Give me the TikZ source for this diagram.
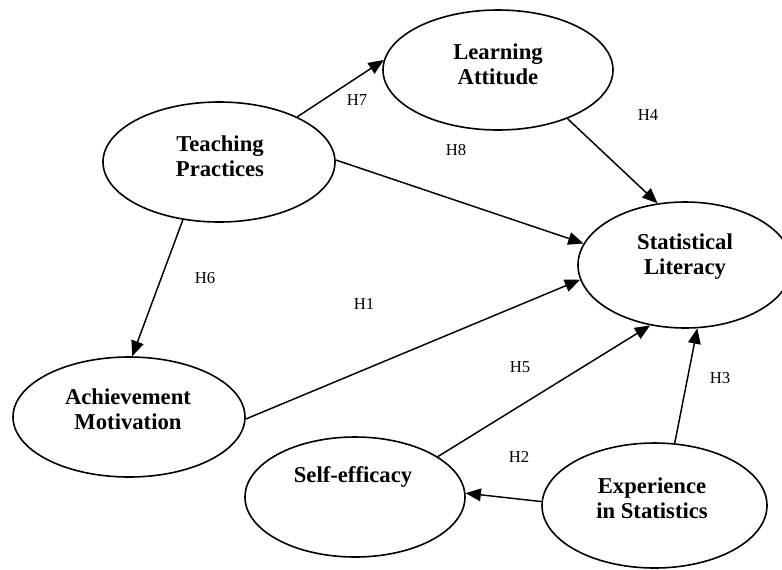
\documentclass[tikz,border=0pt]{standalone}
\usepackage{fontspec}
\setmainfont{Liberation Serif}
\usetikzlibrary{shapes.geometric,arrows.meta}
\begin{document}
\begin{tikzpicture}[x=0.75pt,y=-0.75pt,
  construct/.style={draw,ellipse,line width=1.2pt,inner sep=0pt},
  ctext/.style={align=center,font=\bfseries\fontsize{17}{18.75}\selectfont},
  path/.style={line width=1.1pt,-{Triangle[length=11.5pt,width=9.5pt]}},
  hyp/.style={font=\fontsize{12.5}{14}\selectfont}]
\useasboundingbox (0,0) rectangle (782,569);
\clip (0,0) rectangle (782,569);

% latent constructs
\node[construct,minimum width=172.5pt,minimum height=90pt] (LA) at (498,70) {};
\node[construct,minimum width=174pt,minimum height=90pt] (TP) at (219,162) {};
\node[construct,minimum width=160.5pt,minimum height=94.5pt] (SL) at (685,265) {};
\node[construct,minimum width=174pt,minimum height=90pt] (AM) at (129,417) {};
\node[construct,minimum width=165pt,minimum height=90pt] (SE) at (355,497) {};
\node[construct,minimum width=168.75pt,minimum height=93.75pt] (ES) at (654.5,505.5) {};

% construct names
\node[ctext] (LAt) at (498,64) {Learning\\Attitude};
\node[ctext] (TPt) at (220,156) {Teaching\\Practices};
\node[ctext] (SLt) at (685,257) {Statistical\\Literacy};
\node[ctext] (AMt) at (128,409) {Achievement\\Motivation};
\node[ctext] (SEt) at (353,477) {Self-efficacy};
\node[ctext] (ESt) at (652,498) {Experience\\in Statistics};

% hypothesised paths
\draw[path] (TP.30.6) -- (LA.175.1);
\draw[path] (TP.1.5) -- (SL.168.6);
\draw[path] (LA.-35.5) -- (SL.114.2);
\draw[path] (AM.-1.5) -- (SL.188.1);
\draw[path] (SE.26.6) -- (SL.240.3);
\draw[path] (ES.72.1) -- (SL.281);
\draw[path] (ES.178.2) -- (SE.2.1);
\draw[path] (TP.238.3) -- (AM.87.1);

% path labels
\node[hyp] (h7) at (357,100) {H7};
\node[hyp] (h8) at (456,150) {H8};
\node[hyp] (h4) at (648,115) {H4};
\node[hyp] (h6) at (205,278) {H6};
\node[hyp] (h1) at (364,304) {H1};
\node[hyp] (h5) at (520,367) {H5};
\node[hyp] (h3) at (720,378) {H3};
\node[hyp] (h2) at (519,457) {H2};
\end{tikzpicture}
\end{document}
